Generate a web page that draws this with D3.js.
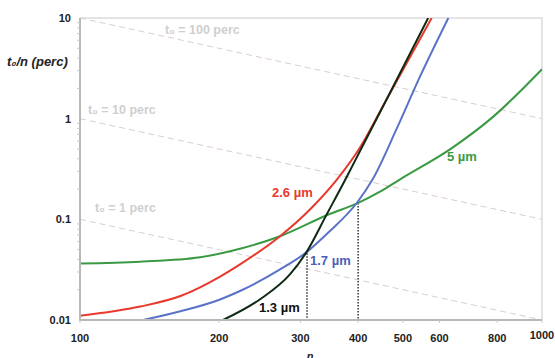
<!DOCTYPE html>
<html>
<head>
<meta charset="utf-8">
<script src="https://cdn.jsdelivr.net/npm/d3@7"></script>
<style>
	body { margin: 0; background: #fff; }
	svg { display: block; font-family: "Liberation Sans", Arial, sans-serif; }
</style>
</head>
<body>
<svg id="chart" width="555" height="358"></svg>
<script>
// x ticks (n) and y ticks (t0/n, perc)
var xTicks = [100, 200, 300, 400, 500, 600, 800, 1000];
var yTicks = [0.01, 0.1, 1, 10];

// t0 = const reference lines, value at n=100 and at n=1000
var refNames = ["t\u2080 = 100 perc", "t\u2080 = 10 perc", "t\u2080 = 1 perc"];
var refStart = [10, 1, 0.1];
var refEnd = [1, 0.1, 0.01];

// curves
var green_n = [100, 135, 182, 222, 271, 347, 398, 446, 493, 638, 781, 1000];
var green_v = [0.0365, 0.038, 0.042, 0.051, 0.068, 0.113, 0.144, 0.188, 0.25, 0.51, 1.03, 3.1];

var red_n = [100, 135, 165, 201, 222, 271, 315, 359, 404, 457, 577];
var red_v = [0.011, 0.0136, 0.0173, 0.027, 0.0357, 0.068, 0.126, 0.245, 0.52, 1.45, 10];

var blue_n = [137, 165, 201, 222, 271, 309, 347, 398, 430, 485, 544, 627];
var blue_v = [0.01, 0.0122, 0.016, 0.0194, 0.0318, 0.047, 0.076, 0.147, 0.25, 0.8, 2.6, 10];

var black_n = [204, 245, 285, 309, 342, 378, 404, 453, 567];
var black_v = [0.01, 0.016, 0.0285, 0.047, 0.112, 0.265, 0.48, 1.33, 10];

// dotted markers: n and height
var mark_n = [310, 400];
var mark_v = [0.046, 0.145];

var svg = d3.select("#chart");
// plot area (note: "top" is taken by window.top, so use p*)
var pLeft = 80, pRight = 542, pTop = 18, pBottom = 320;

var x = d3.scaleLog().domain([100, 1000]).range([pLeft, pRight]);
var y = d3.scaleLog().domain([0.01, 10]).range([pBottom, pTop]);

svg.append("clipPath").attr("id", "plotclip")
	.append("rect")
	.attr("x", pLeft).attr("y", pTop)
	.attr("width", pRight - pLeft).attr("height", pBottom - pTop);

// frame: top and right are light
svg.append("path")
	.attr("d", "M" + pLeft + "," + pTop + "H" + pRight + "V" + pBottom)
	.style("fill", "none").style("stroke", "#dcdcdc").style("stroke-width", 1.5);

// reference dashed lines
var ref = svg.append("g").attr("clip-path", "url(#plotclip)");
refStart.forEach(function(v, i) {
	ref.append("line")
		.attr("x1", x(100)).attr("y1", y(v))
		.attr("x2", x(1000)).attr("y2", y(refEnd[i]))
		.style("stroke", "#dccdcd").style("stroke-width", 1)
		.style("stroke-dasharray", "6,4");
});

var refLabelPos = [[165, 34], [88, 114], [95, 212]];
refNames.forEach(function(t, i) {
	svg.append("text")
		.attr("x", refLabelPos[i][0]).attr("y", refLabelPos[i][1])
		.style("font-size", "12.5px").style("font-weight", "bold")
		.style("fill", "#cfcfcf")
		.text(t);
});

// dotted markers down to the axis
mark_n.forEach(function(n, i) {
	svg.append("line")
		.attr("x1", x(n)).attr("x2", x(n))
		.attr("y1", y(mark_v[i])).attr("y2", pBottom)
		.style("stroke", "#333").style("stroke-width", 1.5)
		.style("stroke-dasharray", "1.5,1.5");
});

// the curves
var line = d3.line()
	.x(function(d) { return x(d[0]); })
	.y(function(d) { return y(d[1]); })
	.curve(d3.curveMonotoneX);

var series = [
	{ n: green_n, v: green_v, color: "#3a9a43" },
	{ n: red_n, v: red_v, color: "#e8392c" },
	{ n: blue_n, v: blue_v, color: "#5a72c8" },
	{ n: black_n, v: black_v, color: "#0e2a14" }
];

var curves = svg.append("g").attr("clip-path", "url(#plotclip)");
series.forEach(function(s) {
	var pts = s.n.map(function(n, i) { return [n, s.v[i]]; });
	curves.append("path")
		.datum(pts)
		.attr("d", line)
		.style("fill", "none")
		.style("stroke", s.color)
		.style("stroke-width", 2);
});

// axes (left and bottom)
svg.append("path")
	.attr("d", "M" + pLeft + "," + pTop + "V" + pBottom + "H" + pRight)
	.style("fill", "none").style("stroke", "#b8b8b8").style("stroke-width", 2);

// minor ticks on the y axis
var minor = [];
yTicks.forEach(function(t) {
	if (t >= 10) return;
	for (var k = 2; k <= 9; k++) minor.push(t * k);
});
svg.selectAll(".ymin").data(minor).enter().append("line")
	.attr("x1", pLeft - 3).attr("x2", pLeft)
	.attr("y1", function(d) { return y(d); }).attr("y2", function(d) { return y(d); })
	.style("stroke", "#c8c8c8").style("stroke-width", 1);

svg.selectAll(".xt").data(xTicks).enter().append("line")
	.attr("x1", function(d) { return x(d); }).attr("x2", function(d) { return x(d); })
	.attr("y1", pBottom).attr("y2", pBottom + 3)
	.style("stroke", "#c8c8c8").style("stroke-width", 1);

// tick labels
svg.selectAll(".ylab").data(yTicks).enter().append("text")
	.attr("x", 71)
	.attr("y", function(d) { return y(d) + 4; })
	.style("text-anchor", "end")
	.style("font-size", "11px").style("font-weight", "bold")
	.style("fill", "#222")
	.text(function(d) { return d; });

svg.selectAll(".xlab").data(xTicks).enter().append("text")
	.attr("x", function(d) { return x(d); })
	.attr("y", function(d) { return d == 1000 ? 339 : 342; })
	.style("text-anchor", "middle")
	.style("font-size", "11px").style("font-weight", "bold")
	.style("fill", "#222")
	.text(function(d) { return d; });

// axis titles
svg.append("text")
	.attr("x", 7).attr("y", 66)
	.style("font-size", "13px").style("font-weight", "bold").style("font-style", "italic")
	.style("fill", "#222")
	.text("t\u2080/n (perc)");

svg.append("text")
	.attr("x", 310).attr("y", 360)
	.style("text-anchor", "middle")
	.style("font-size", "11px").style("font-weight", "bold").style("font-style", "italic")
	.style("fill", "#222")
	.text("n");

// curve labels
var labels = [
	{ t: "2.6 \u00b5m", x: 272, y: 197, c: "#e8392c" },
	{ t: "5 \u00b5m", x: 447, y: 161, c: "#3a9a43" },
	{ t: "1.7 \u00b5m", x: 310, y: 265, c: "#4e5fb8" },
	{ t: "1.3 \u00b5m", x: 259, y: 312, c: "#111" }
];
labels.forEach(function(l) {
	svg.append("text")
		.attr("x", l.x).attr("y", l.y)
		.style("font-size", "13px").style("font-weight", "bold")
		.style("fill", l.c)
		.text(l.t);
});
</script>
</body>
</html>
